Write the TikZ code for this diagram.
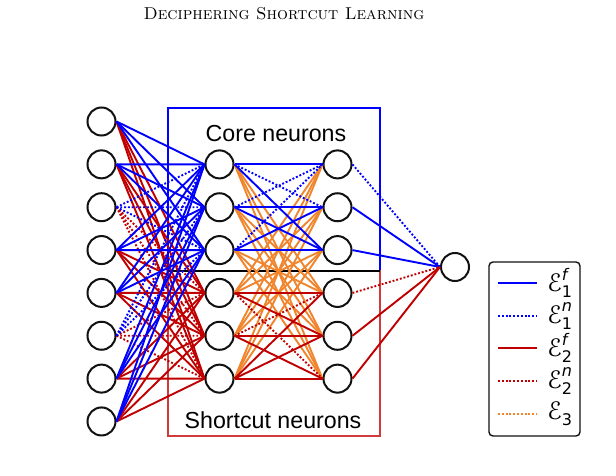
\documentclass[tikz,border=0pt]{standalone}
\usepackage{amsmath}
\usepackage{fontspec}
\usetikzlibrary{positioning}
\newfontfamily\labelfont{Liberation Sans}
\newfontfamily\legfont{DejaVu Sans}
\definecolor{CoreBlue}{HTML}{0000FF}
\definecolor{CutRed}{HTML}{C00000}
\definecolor{BoxRed}{HTML}{D03A3A}
\definecolor{Mix}{HTML}{F0852D}
\definecolor{Ink}{HTML}{111111}

\begin{document}
\begin{tikzpicture}[x=0.5pt,y=-0.5pt,
    neuron/.style={circle,draw=Ink,line width=1pt,minimum size=14pt,inner sep=0pt},
    wf/.style={line width=0.95pt},
    wn/.style={line width=0.95pt,dash pattern=on 0.95pt off 0.95pt},
    cross/.style={Mix,line width=0.95pt},
    boxlabel/.style={font=\labelfont\fontsize{11.6}{13}\selectfont,anchor=base}]
  \useasboundingbox (0,0) rectangle (616,476);
  \node[font=\fontsize{8.6}{10}\selectfont] (head) at (284,14) {\textsc{Deciphering Shortcut Learning}};

  % groups
  \draw[CoreBlue,line width=0.6pt] (168,108) rectangle (380,271);
  \draw[BoxRed,line width=0.6pt] (168,271) rectangle (380,436);
  \draw[black,line width=0.8pt] (168,271) -- (380,271);
  \node[boxlabel] (core) at (276,141.5) {Core neurons};
  \node[boxlabel] (shortcut) at (273,428) {Shortcut neurons};

  % neurons
  \foreach \k in {1,...,8}
    \node[neuron] (i\k) at (101.5,{121.5+42.85*(\k-1)}) {};
  \foreach \k in {1,...,6}{
    \node[neuron] (h\k) at (219.5,{164.4+42.85*(\k-1)}) {};
    \node[neuron] (g\k) at (337.5,{164.4+42.85*(\k-1)}) {};
  }
  \node[neuron] (out) at (455,267) {};

  % mixed links
  \foreach \a in {1,2,3}
    \foreach \b in {4,5,6}{
      \draw[cross] (h\a.east) -- (g\b.west);
      \draw[cross] (h\b.east) -- (g\a.west);
    }

  % input layer
  \foreach \k/\s in {1/wf,2/wf,3/wn,4/wf,5/wf,6/wn,7/wf,8/wf}{
    \foreach \b in {4,5,6}
      \draw[CutRed,\s] (i\k.east) -- (h\b.west);
  }
  \foreach \k/\s in {1/wf,2/wf,3/wn,4/wf,5/wf,6/wn,7/wf,8/wf}{
    \foreach \b in {1,2,3}
      \draw[CoreBlue,\s] (i\k.east) -- (h\b.west);
  }

  % hidden to hidden
  \foreach \a/\b/\s in {1/1/wf,1/2/wn,1/3/wf,2/1/wn,2/2/wf,2/3/wf,3/1/wn,3/2/wf,3/3/wf}
    \draw[CoreBlue,\s] (h\a.east) -- (g\b.west);
  \foreach \a/\b/\s in {4/4/wf,4/5/wf,4/6/wn,5/4/wn,5/5/wf,5/6/wf,6/4/wf,6/5/wf,6/6/wf}
    \draw[CutRed,\s] (h\a.east) -- (g\b.west);

  % output
  \foreach \a/\s/\col in {1/wn/CoreBlue,2/wf/CoreBlue,3/wf/CoreBlue,4/wn/CutRed,5/wf/CutRed,6/wf/CutRed}
    \draw[\col,\s] (g\a.east) -- (out.west);

  % legend
  \draw[Ink,line width=0.7pt,rounded corners=2pt] (489,262) rectangle (580,436);
  \foreach \k/\y/\col/\s/\sup/\sub in {
      1/283/CoreBlue/wf/f/1,
      2/316/CoreBlue/wn/n/1,
      3/348/CutRed/wf/f/2,
      4/381/CutRed/wn/n/2,
      5/414/Mix/wn//3}{
    \coordinate (la\k) at (498,\y);
    \coordinate (lb\k) at (537,\y);
    \draw[\col,\s] (la\k) -- (lb\k);
    \node[anchor=west,inner sep=0pt,font=\legfont\fontsize{12}{13}\selectfont] (lt\k) at (547,\y) {$\text{ℰ}^{\text{\itshape\sup}}_{\text{\sub}}$};
  }
\end{tikzpicture}
\end{document}
